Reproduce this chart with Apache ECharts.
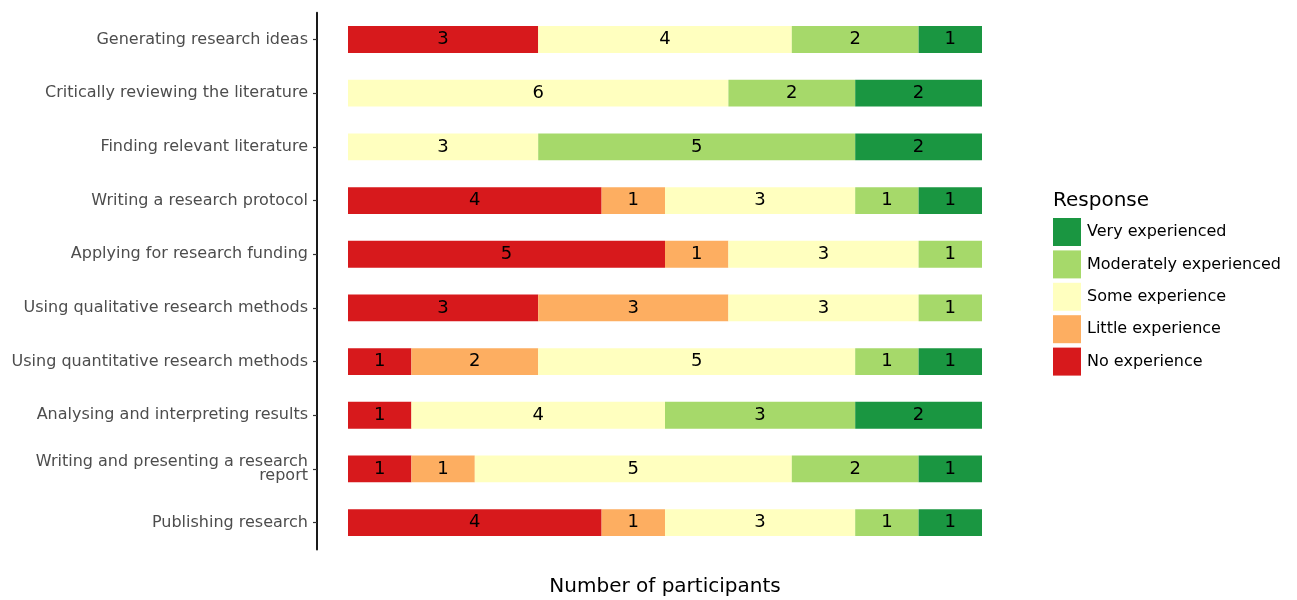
<!DOCTYPE html>
<html>
<head>
<meta charset="utf-8">
<script src="https://cdn.jsdelivr.net/npm/echarts@6/dist/echarts.min.js"></script>
<style>
html,body{margin:0;padding:0;background:#fff;}
#chart{width:1297px;height:600px;}
</style>
</head>
<body>
<div id="chart"></div>
<script>
var categories = [
  "Generating research ideas",
  "Critically reviewing the literature",
  "Finding relevant literature",
  "Writing a research protocol",
  "Applying for research funding",
  "Using qualitative research methods",
  "Using quantitative research methods",
  "Analysing and interpreting results",
  "Writing and presenting a research\nreport",
  "Publishing research"
];
var responses = ["No experience", "Little experience", "Some experience", "Moderately experienced", "Very experienced"];
var noExperience       = [3, 0, 0, 4, 5, 3, 1, 1, 1, 4];
var littleExperience   = [0, 0, 0, 1, 1, 3, 2, 0, 1, 1];
var someExperience     = [4, 6, 3, 3, 3, 3, 5, 4, 5, 3];
var moderatelyExperienced = [2, 2, 5, 1, 1, 1, 1, 3, 2, 1];
var veryExperienced    = [1, 2, 2, 1, 0, 0, 1, 2, 1, 1];
var colors = ["#d7191c", "#fdae61", "#ffffbf", "#a6d96a", "#1a9641"];

var values = [noExperience, littleExperience, someExperience, moderatelyExperienced, veryExperienced];
var FONT = "DejaVu Sans";

var series = responses.map(function (name, i) {
  return {
    name: name,
    type: 'bar',
    stack: 'total',
    barWidth: '50%',
    data: values[i],
    itemStyle: { color: colors[i] },
    label: {
      show: true,
      position: 'inside',
      color: '#000',
      fontFamily: FONT,
      fontSize: 18,
      formatter: function (p) { return p.value ? String(p.value) : ''; }
    },
    emphasis: { disabled: true }
  };
});

var chart = echarts.init(document.getElementById('chart'), null, { renderer: 'canvas' });
chart.setOption({
  animation: false,
  backgroundColor: '#fff',
  textStyle: { fontFamily: FONT },
  title: {
    text: 'Response',
    left: 1053,
    top: 191,
    padding: 0,
    textStyle: { fontFamily: FONT, fontSize: 20, fontWeight: 'normal', color: '#000' }
  },
  legend: {
    data: responses.slice().reverse(),
    orient: 'vertical',
    left: 1053,
    top: 218,
    padding: 0,
    itemWidth: 28,
    itemHeight: 28,
    itemGap: 4.4,
    icon: 'rect',
    selectedMode: false,
    textStyle: { fontFamily: FONT, fontSize: 16, color: '#000', padding: [0, 0, 0, 1] }
  },
  grid: {
    left: 348,
    width: 634,
    top: 12.7,
    height: 536.7,
    containLabel: false,
    outerBoundsMode: 'none'
  },
  xAxis: {
    type: 'value',
    min: 0,
    max: 10,
    name: 'Number of participants',
    nameLocation: 'middle',
    nameGap: 27,
    nameTextStyle: { fontFamily: FONT, fontSize: 20, color: '#000' },
    axisLine: { show: false },
    axisTick: { show: false },
    axisLabel: { show: false },
    splitLine: { show: false }
  },
  yAxis: {
    type: 'category',
    data: categories,
    inverse: true,
    offset: 31,
    axisLine: { show: true, onZero: false, lineStyle: { color: '#1a1a1a', width: 2 } },
    axisTick: { show: true, length: 4, alignWithLabel: true, lineStyle: { color: '#333', width: 1.2 } },
    axisLabel: {
      margin: 9,
      fontFamily: FONT,
      fontSize: 16,
      color: '#4d4d4d',
      lineHeight: 14,
      align: 'right'
    },
    splitLine: { show: false }
  },
  series: series
});
</script>
</body>
</html>
